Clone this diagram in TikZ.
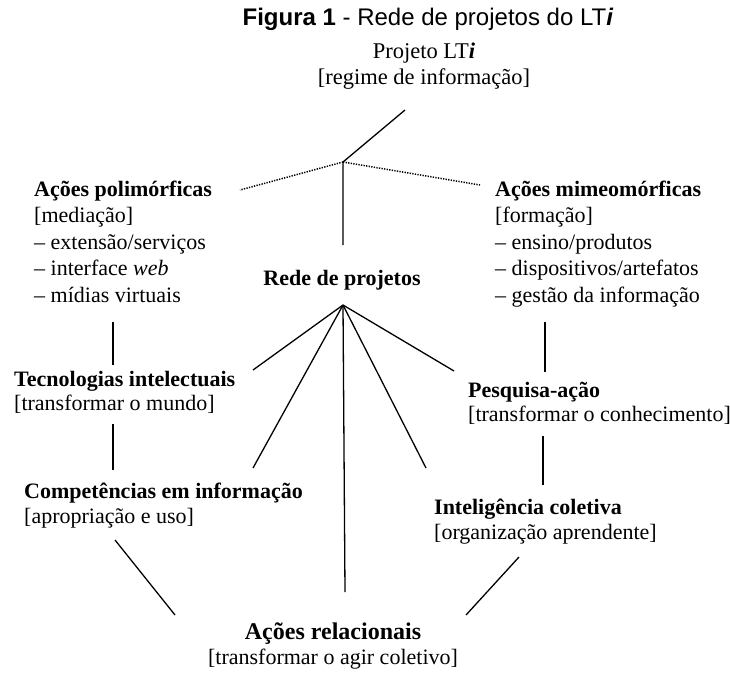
\documentclass[tikz,border=0pt]{standalone}
\usepackage{fontspec}
\setmainfont{Liberation Serif}
\newfontfamily\titlefont{Liberation Sans}
\begin{document}
\begin{tikzpicture}[x=1pt,y=-1pt,
  lbl/.style={inner sep=0pt, font=\fontsize{22}{24.5}\selectfont, align=left},
  blk/.style={inner sep=0pt, font=\fontsize{22}{26.5}\selectfont, align=left},
  ctr/.style={inner sep=0pt, align=center},
  ln/.style={line width=1.3pt},
  dots/.style={line width=1.5pt, dash pattern=on 1.3pt off 1.3pt}]
\useasboundingbox (0,0) rectangle (730,673);
\fill[white] (0,0) rectangle (730,673);

% title
\node[inner sep=0pt, anchor=base, font=\titlefont\fontsize{24}{26}\selectfont] (title) at (428,25)
  {\textbf{Figura 1} - Rede de projetos do LT\textbf{\textit{i}}};

% top project (base = last line)
\node[ctr, anchor=base, font=\fontsize{22.5}{26}\selectfont] (proj) at (424,84)
  {Projeto LT\textbf{\textit{i}}\\{}[regime de informação]};

% left / right blocks (base = last line)
\node[blk, anchor=base west] (pol) at (34,302)
  {\textbf{Ações polimórficas}\\{}[mediação]\\– extensão/serviços\\– interface \textit{web}\\– mídias virtuais};
\node[blk, anchor=base west] (mim) at (495,302)
  {\textbf{Ações mimeomórficas}\\{}[formação]\\– ensino/produtos\\– dispositivos/artefatos\\– gestão da informação};

\node[inner sep=0pt, anchor=base, font=\fontsize{22}{24}\selectfont] (rede) at (342,285) {\textbf{Rede de projetos}};

\node[lbl, anchor=base west] (tec) at (14,410.5)
  {\textbf{Tecnologias intelectuais}\\{}[transformar o mundo]};
\node[lbl, anchor=base west] (pes) at (468,421.5)
  {\textbf{Pesquisa-ação}\\{}[transformar o conhecimento]};
\node[lbl, anchor=base west] (comp) at (24,523)
  {\textbf{Competências em informação}\\{}[apropriação e uso]};
\node[lbl, anchor=base west] (intel) at (434,539)
  {\textbf{Inteligência coletiva}\\{}[organização aprendente]};
\node[ctr, anchor=base, font=\fontsize{22}{25}\selectfont] (rel) at (333,664)
  {{\fontsize{24}{25}\selectfont\textbf{Ações relacionais}}\\{}[transformar o agir coletivo]};

% coordinates
\coordinate (top) at (405,110);
\coordinate (apex) at (343,162);
\coordinate (dl) at (240,190);
\coordinate (dr) at (480,185);
\coordinate (vb) at (343,245);
\coordinate (fan) at (343,305);
\coordinate (f1) at (253,370);
\coordinate (f2) at (253,468);
\coordinate (f3) at (345,592);
\coordinate (f4) at (426,468);
\coordinate (f5) at (454,371);
\coordinate (la1) at (113,322);
\coordinate (la2) at (113,365);
\coordinate (lb1) at (113,424);
\coordinate (lb2) at (113,470);
\coordinate (ra1) at (545,322);
\coordinate (ra2) at (545,372);
\coordinate (rb1) at (543,436);
\coordinate (rb2) at (543,485);
\coordinate (bl1) at (115,540);
\coordinate (bl2) at (175,615);
\coordinate (br1) at (519,557);
\coordinate (br2) at (466,615);

\draw[ln] (top) -- (apex) -- (vb);
\draw[dots] (apex) -- (dl);
\draw[dots] (apex) -- (dr);
\foreach \p in {f1,f2,f3,f4,f5} \draw[ln] (fan) -- (\p);
\draw[ln] (la1) -- (la2);
\draw[ln] (lb1) -- (lb2);
\draw[ln] (ra1) -- (ra2);
\draw[ln] (rb1) -- (rb2);
\draw[ln] (bl1) -- (bl2);
\draw[ln] (br1) -- (br2);
\end{tikzpicture}
\end{document}
